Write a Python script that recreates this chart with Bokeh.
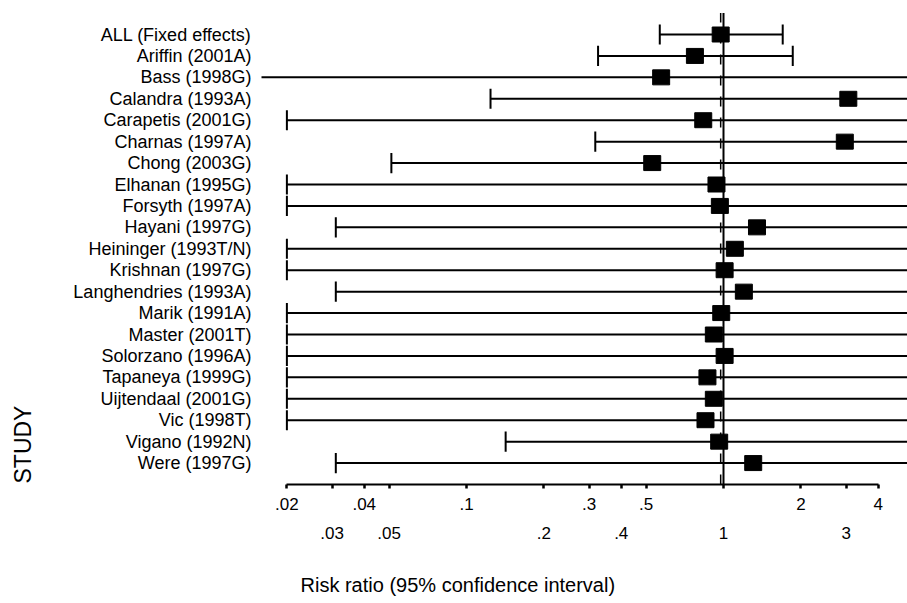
import math
from bokeh.plotting import figure
from bokeh.models import Range1d, FixedTicker, LogAxis, Title, ColumnDataSource
from bokeh.embed import file_html
from bokeh.resources import INLINE

# ---- data ----
studies = ["ALL (Fixed effects)", "Ariffin (2001A)", "Bass (1998G)", "Calandra (1993A)",
           "Carapetis (2001G)", "Charnas (1997A)", "Chong (2003G)", "Elhanan (1995G)",
           "Forsyth (1997A)", "Hayani (1997G)", "Heininger (1993T/N)", "Krishnan (1997G)",
           "Langhendries (1993A)", "Marik (1991A)", "Master (2001T)", "Solorzano (1996A)",
           "Tapaneya (1999G)", "Uijtendaal (2001G)", "Vic (1998T)", "Vigano (1992N)",
           "Were (1997G)"]
risk_ratio = [0.975, 0.774, 0.572, 3.06, 0.834, 2.965, 0.528, 0.939, 0.968, 1.35, 1.107,
              1.01, 1.2, 0.98, 0.917, 1.01, 0.866, 0.917, 0.851, 0.962, 1.305]
ci_lower = [0.565, 0.325, 0.015, 0.124, 0.02, 0.317, 0.051, 0.02, 0.02, 0.031, 0.02,
            0.02, 0.031, 0.02, 0.02, 0.02, 0.02, 0.02, 0.02, 0.142, 0.031]
ci_upper = [1.70, 1.86, 6.0, 6.0, 6.0, 6.0, 6.0, 6.0, 6.0, 6.0, 6.0,
            6.0, 6.0, 6.0, 6.0, 6.0, 6.0, 6.0, 6.0, 6.0, 6.0]
upper_row_ticks = [0.02, 0.04, 0.1, 0.3, 0.5, 2, 4]
lower_row_ticks = [0.03, 0.05, 0.2, 0.4, 1, 3]
tick_labels = {0.02: ".02", 0.03: ".03", 0.04: ".04", 0.05: ".05", 0.1: ".1", 0.2: ".2",
               0.3: ".3", 0.4: ".4", 0.5: ".5", 1: "1", 2: "2", 3: "3", 4: "4"}
axis_min, axis_max = 0.02, 4
x_title = "Risk ratio (95% confidence interval)"
y_title = "STUDY"

n = len(studies)
ypos = [n - i for i in range(n)]  # ALL at top

FONT = "Liberation Sans"

p = figure(width=907, height=603, x_axis_type="log",
           x_range=Range1d(0.01593, 5.2), y_range=Range1d(0, 22.12),
           output_backend="svg", toolbar_location=None,
           min_border_left=261, min_border_right=0, min_border_top=10, min_border_bottom=119)
p.outline_line_color = None
p.grid.visible = False
p.background_fill_color = "white"
p.border_fill_color = "white"

# reference lines
p.segment(x0=[1], x1=[1], y0=[0], y1=[n + 1], line_color="black", line_width=2)
p.segment(x0=[risk_ratio[0]], x1=[risk_ratio[0]], y0=[0], y1=[n + 1], line_color="black",
          line_width=1.5, line_dash="10 11")

# CI lines
src = ColumnDataSource(dict(y=ypos, rr=risk_ratio, lo=ci_lower, hi=ci_upper))
p.segment(x0="lo", x1="hi", y0="y", y1="y", source=src, line_color="black", line_width=2)

# caps
cap_x, cap_y0, cap_y1 = [], [], []
for y, lo, hi in zip(ypos, ci_lower, ci_upper):
    if lo >= axis_min:
        cap_x.append(lo); cap_y0.append(y - 0.47); cap_y1.append(y + 0.47)
    if hi <= axis_max:
        cap_x.append(hi); cap_y0.append(y - 0.47); cap_y1.append(y + 0.47)
p.segment(x0=cap_x, x1=cap_x, y0=cap_y0, y1=cap_y1, line_color="black", line_width=2)

# squares
p.rect(x="rr", y="y", width=17, height=15, width_units="screen", height_units="screen",
       source=src, fill_color="black", line_color="black")

# y axis: study names (blank axis label only adds spacing to the left)
p.yaxis.ticker = FixedTicker(ticks=ypos)
p.yaxis.major_label_overrides = {y: s for y, s in zip(ypos, studies)}
p.yaxis.axis_line_color = None
p.yaxis.major_tick_line_color = None
p.yaxis.minor_tick_line_color = None
p.yaxis.major_tick_out = 0
p.yaxis.major_label_standoff = 10
p.yaxis.major_label_text_font = FONT
p.yaxis.major_label_text_font_size = "18px"
p.yaxis.major_label_text_color = "black"
p.yaxis.axis_label = " "
p.yaxis.axis_label_text_font_size = "10px"
p.yaxis.axis_label_standoff = 17

all_ticks = sorted(upper_row_ticks + lower_row_ticks)

# x axis: upper row of labels
ax = p.xaxis[0]
ax.ticker = FixedTicker(ticks=all_ticks)
ax.bounds = (axis_min, axis_max)
ax.major_label_overrides = {t: (tick_labels[t] if t in upper_row_ticks else "") for t in all_ticks}
ax.axis_line_width = 2
ax.axis_line_color = "black"
ax.major_tick_in = 0
ax.major_tick_out = 4
ax.major_tick_line_width = 2.5
ax.minor_tick_line_color = None
ax.major_label_standoff = 9
ax.major_label_text_font = FONT
ax.major_label_text_font_size = "17px"
ax.major_label_text_color = "black"

# x axis: lower row of labels (blank axis label only adds spacing below)
ax2 = LogAxis(ticker=FixedTicker(ticks=all_ticks), bounds=(axis_min, axis_max))
ax2.major_label_overrides = {t: (tick_labels[t] if t in lower_row_ticks else "") for t in all_ticks}
ax2.axis_line_color = None
ax2.major_tick_line_color = None
ax2.major_tick_in = 0
ax2.major_tick_out = 0
ax2.minor_tick_line_color = None
ax2.major_label_standoff = 14
ax2.major_label_text_font = FONT
ax2.major_label_text_font_size = "17px"
ax2.major_label_text_color = "black"
ax2.axis_label = " "
ax2.axis_label_text_font_size = "10px"
ax2.axis_label_standoff = 18
p.add_layout(ax2, "below")

# axis titles
p.add_layout(Title(text=x_title, align="left", offset=39, vertical_align="top", standoff=0,
                   text_font=FONT, text_font_size="20px", text_font_style="normal",
                   text_color="black"), "below")
p.add_layout(Title(text=y_title, align="left", offset=1, vertical_align="top", standoff=4,
                   text_font=FONT, text_font_size="23px", text_font_style="normal",
                   text_color="black"), "left")

open("out.html", "w").write(file_html(p, INLINE))
